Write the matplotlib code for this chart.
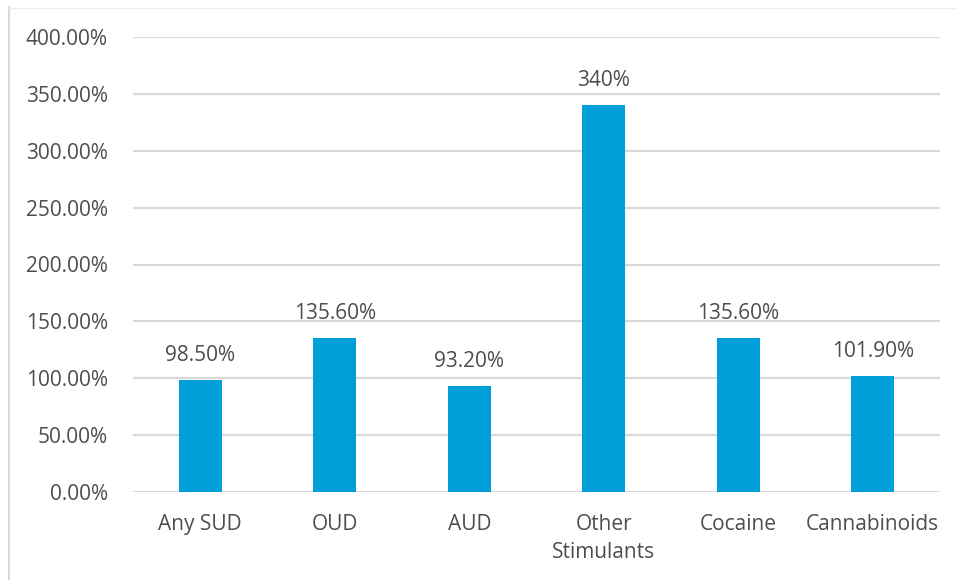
import matplotlib.pyplot as plt
from matplotlib.lines import Line2D

categories = ['Any SUD', 'OUD', 'AUD', 'Other\nStimulants', 'Cocaine', 'Cannabinoids']
values = [98.5, 135.6, 93.2, 340, 135.6, 101.9]
bar_labels = ['98.50%', '135.60%', '93.20%', '340%', '135.60%', '101.90%']
yticks = [0, 50, 100, 150, 200, 250, 300, 350, 400]

plt.rcParams['font.family'] = ['Open Sans', 'DejaVu Sans']
text_color = '#4D4D4D'

fig = plt.figure(figsize=(9.56, 5.8), dpi=100)
W, H = 956, 580
ax = fig.add_axes([133 / W, 1 - 492 / H, (940 - 133) / W, (492 - 37) / H])

x = range(len(categories))
ax.bar(x, values, width=0.32, color='#009FDA', zorder=3)

for xi, v, lab in zip(x, values, bar_labels):
    ax.annotate(lab, (xi, v), xytext=(0, 10), textcoords='offset points',
                ha='center', va='bottom', fontsize=15, color=text_color)

ax.set_xlim(-0.5, len(categories) - 0.5)
ax.set_ylim(0, 400)
ax.set_yticks(yticks)
ax.set_yticklabels([f'{t:.2f}%' for t in yticks])
ax.set_xticks(list(x))
ax.set_xticklabels(categories, linespacing=1.45)
ax.tick_params(axis='both', length=0, labelsize=15, labelcolor=text_color)
ax.tick_params(axis='y', pad=18)
ax.tick_params(axis='x', pad=16)
ax.grid(axis='y', color='#D9D9D9', linewidth=1.6, zorder=0)
for s in ax.spines.values():
    s.set_visible(False)

# figure border (left and top)
fig.add_artist(Line2D([8.5 / W, 8.5 / W], [0, 1 - 7 / H], transform=fig.transFigure,
                      color='#D9D9D9', linewidth=1.5))
fig.add_artist(Line2D([8.5 / W, 1], [1 - 7.5 / H, 1 - 7.5 / H], transform=fig.transFigure,
                      color='#EEEEEE', linewidth=1.0))

fig.savefig('out.png', dpi=100)
